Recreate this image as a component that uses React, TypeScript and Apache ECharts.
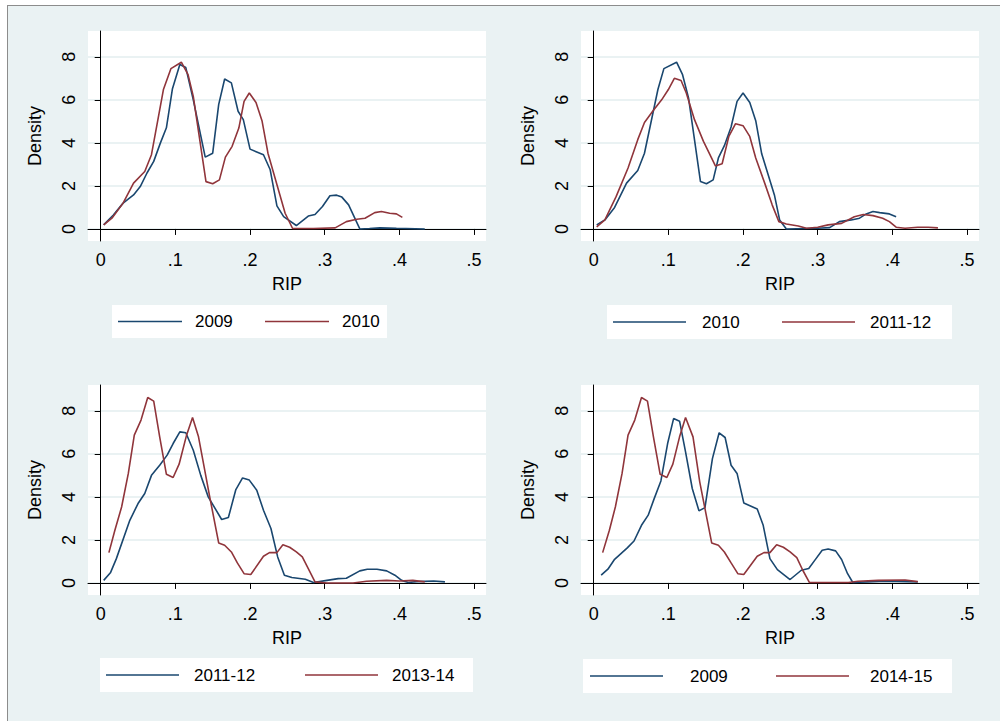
import React, { useEffect, useRef } from 'react';
import * as echarts from 'echarts';

// density curves, [RIP, density]
const p1_2009 = [[.004,.19],[.017,.65],[.030,1.2],[.044,1.58],[.053,1.97],[.062,2.6],[.071,3.14],[.080,4.0],[.088,4.7],[.096,6.5],[.106,7.64],[.114,7.5],[.124,6.0],[.140,3.34],[.150,3.52],[.158,5.78],[.166,6.97],[.175,6.79],[.184,5.47],[.191,5.08],[.200,3.71],[.218,3.45],[.227,2.75],[.236,1.07],[.245,.57],[.262,.16],[.278,.6],[.287,.67],[.297,1.04],[.307,1.54],[.316,1.57],[.323,1.48],[.332,1.12],[.347,0],[.360,.02],[.374,.05],[.396,.03],[.434,0]];
const p1_2010 = [[.004,.19],[.015,.5],[.030,1.2],[.044,2.13],[.059,2.67],[.068,3.45],[.084,6.48],[.094,7.45],[.108,7.75],[.117,7.17],[.124,6.16],[.141,2.2],[.150,2.1],[.159,2.28],[.167,3.34],[.176,3.84],[.185,4.69],[.192,5.93],[.199,6.32],[.208,5.88],[.216,5.03],[.224,3.52],[.240,1.58],[.247,.73],[.257,.02],[.285,.02],[.314,.05],[.329,.34],[.343,.45],[.354,.5],[.367,.76],[.376,.81],[.387,.73],[.396,.7],[.404,.54]];
const p2_2010 = [[.004,.19],[.015,.42],[.028,1.0],[.044,2.13],[.059,2.72],[.068,3.52],[.086,6.48],[.094,7.45],[.111,7.75],[.119,7.17],[.127,6.09],[.143,2.2],[.151,2.1],[.160,2.28],[.167,3.3],[.175,3.87],[.184,4.74],[.192,5.93],[.200,6.32],[.209,5.88],[.217,5.03],[.225,3.49],[.242,1.58],[.249,.42],[.258,0],[.300,.03],[.316,.06],[.329,.34],[.345,.42],[.356,.5],[.365,.7],[.374,.81],[.383,.76],[.396,.7],[.405,.57]];
const p2_2011 = [[.004,.1],[.015,.42],[.030,1.5],[.046,2.83],[.059,4.15],[.068,4.95],[.079,5.47],[.091,6.0],[.100,6.48],[.108,7.0],[.117,6.9],[.124,6.32],[.135,5.08],[.147,4.07],[.163,2.93],[.172,3.03],[.181,4.3],[.190,4.89],[.200,4.8],[.209,4.3],[.217,3.3],[.229,2.13],[.239,1.12],[.248,.34],[.258,.23],[.274,.14],[.285,.03],[.300,.08],[.314,.19],[.332,.26],[.349,.57],[.361,.67],[.374,.62],[.387,.5],[.396,.34],[.405,.08],[.417,.03],[.434,.08],[.448,.08],[.461,.05]];
const p3_2011 = [[.004,.12],[.013,.47],[.021,1.13],[.039,2.91],[.050,3.69],[.059,4.16],[.068,5.0],[.079,5.47],[.089,5.94],[.097,6.48],[.106,7.02],[.114,6.98],[.124,6.17],[.134,5.0],[.144,4.0],[.162,2.95],[.171,3.04],[.181,4.34],[.190,4.88],[.199,4.78],[.209,4.31],[.218,3.38],[.228,2.53],[.237,1.21],[.246,.36],[.256,.25],[.274,.17],[.285,.02],[.303,.12],[.318,.2],[.329,.22],[.347,.56],[.357,.64],[.370,.64],[.383,.56],[.394,.36],[.403,.12],[.412,.02],[.423,.06],[.446,.09],[.461,.05]];
const p3_2013 = [[.011,1.41],[.019,2.45],[.028,3.53],[.037,5.09],[.045,6.87],[.054,7.57],[.063,8.62],[.071,8.45],[.079,6.79],[.088,5.05],[.097,4.9],[.105,5.52],[.115,6.87],[.123,7.69],[.131,6.79],[.146,4.0],[.158,1.86],[.166,1.75],[.175,1.44],[.183,.93],[.192,.43],[.201,.39],[.218,1.24],[.226,1.41],[.236,1.41],[.244,1.78],[.253,1.66],[.262,1.44],[.270,1.21],[.278,.67],[.287,.05],[.303,0],[.338,0],[.356,.08],[.383,.12],[.400,.09],[.418,.12],[.434,.05]];
const p4_2009 = [[.010,.36],[.019,.64],[.028,1.1],[.045,1.63],[.054,1.95],[.064,2.68],[.073,3.15],[.081,3.92],[.090,4.74],[.099,6.48],[.107,7.64],[.115,7.52],[.123,6.09],[.132,4.39],[.141,3.35],[.149,3.5],[.159,5.78],[.168,6.98],[.176,6.76],[.184,5.47],[.192,5.09],[.201,3.72],[.219,3.44],[.227,2.68],[.236,1.13],[.246,.62],[.263,.16],[.278,.59],[.288,.67],[.296,1.05],[.306,1.52],[.314,1.58],[.324,1.49],[.332,1.09],[.340,.43],[.347,.02],[.367,.05],[.390,.08],[.434,.05]];
const p4_2014 = [[.012,1.41],[.021,2.45],[.029,3.53],[.038,5.09],[.046,6.87],[.055,7.57],[.064,8.62],[.072,8.45],[.080,6.79],[.089,5.05],[.098,4.9],[.106,5.52],[.115,6.79],[.123,7.69],[.133,6.79],[.142,4.7],[.158,1.86],[.167,1.75],[.175,1.44],[.184,.93],[.193,.43],[.201,.39],[.219,1.24],[.228,1.41],[.236,1.41],[.245,1.78],[.254,1.66],[.263,1.44],[.272,1.18],[.280,.59],[.289,.02],[.341,.02],[.354,.08],[.381,.12],[.417,.14],[.434,.06]];

const xTicks = [0, 0.1, 0.2, 0.3, 0.4, 0.5];
const yTicks = [0, 2, 4, 6, 8];

const panels = [
  { left: 88, top: 31, names: ['2009', '2010'], data: [p1_2009, p1_2010],
    legend: { box: [112, 305, 275, 33], l1: 118, t1: 195, l2: 265, t2: 342, w: 64 } },
  { left: 581, top: 31, names: ['2010', '2011-12'], data: [p2_2010, p2_2011],
    legend: { box: [607, 305, 345, 34], l1: 613, t1: 702, l2: 782, t2: 870, w: 73 } },
  { left: 88, top: 385, names: ['2011-12', '2013-14'], data: [p3_2011, p3_2013],
    legend: { box: [100, 658, 373, 34], l1: 106, t1: 194, l2: 305, t2: 392, w: 73 } },
  { left: 581, top: 385, names: ['2009', '2014-15'], data: [p4_2009, p4_2014],
    legend: { box: [583, 659, 369, 34], l1: 590, t1: 690, l2: 776, t2: 870, w: 73 } },
];

const BLUE = '#1a476f';
const RED = '#90353b';
const FONT = 'Liberation Sans, Arial, sans-serif';

const App: React.FC = () => {
  const chartRef = useRef<HTMLDivElement | null>(null);

  useEffect(() => {
    document.body.style.margin = '0';
    if (!chartRef.current) return;
    const chart = echarts.init(chartRef.current, undefined, { renderer: 'svg' });

    const grids: any[] = [];
    const xAxes: any[] = [];
    const yAxes: any[] = [];
    const series: any[] = [];
    const graphic: any[] = [];

    panels.forEach((p, i) => {
      grids.push({ left: p.left, top: p.top, width: 398, height: 210, show: true, backgroundColor: '#fff', borderWidth: 0 });
      xAxes.push({
        gridIndex: i, type: 'value', min: -0.017, max: 0.516,
        name: 'RIP', nameLocation: 'middle', nameGap: 34,
        nameTextStyle: { fontSize: 18, color: '#000', fontFamily: FONT },
        axisLine: { lineStyle: { color: '#000', width: 1 } },
        axisTick: { length: 6, customValues: xTicks, lineStyle: { color: '#000' } },
        axisLabel: {
          customValues: xTicks, fontSize: 18, color: '#000', fontFamily: FONT, margin: 10,
          formatter: (v: number) => (v === 0 ? '0' : '.' + Math.round(v * 10)),
        },
        splitLine: { show: false },
      });
      yAxes.push({
        gridIndex: i, type: 'value', min: -0.56, max: 9.2,
        name: 'Density', nameLocation: 'middle', nameGap: 44, nameRotate: 90,
        nameTextStyle: { fontSize: 18, color: '#000', fontFamily: FONT },
        axisLine: { show: true, lineStyle: { color: '#000', width: 1 } },
        axisTick: { show: true, length: 6, customValues: yTicks, lineStyle: { color: '#000' } },
        axisLabel: { customValues: yTicks, rotate: 90, fontSize: 18, color: '#000', fontFamily: FONT, margin: 10 },
        splitLine: { show: true, customValues: yTicks, lineStyle: { color: '#eaf2f3', width: 2 } },
      });
      p.data.forEach((d, k) => {
        series.push({
          type: 'line', xAxisIndex: i, yAxisIndex: i, data: d, showSymbol: false,
          lineStyle: { color: k === 0 ? BLUE : RED, width: 1.6 }, z: 3,
        });
      });
      const L = p.legend;
      const cy = L.box[1] + L.box[3] / 2;
      graphic.push({ type: 'rect', shape: { x: L.box[0], y: L.box[1], width: L.box[2], height: L.box[3] }, style: { fill: '#fff' } });
      graphic.push({ type: 'line', shape: { x1: L.l1, y1: cy, x2: L.l1 + L.w, y2: cy }, style: { stroke: BLUE, lineWidth: 1.6 } });
      graphic.push({ type: 'line', shape: { x1: L.l2, y1: cy, x2: L.l2 + L.w, y2: cy }, style: { stroke: RED, lineWidth: 1.6 } });
      graphic.push({ type: 'text', x: L.t1, y: cy, style: { text: p.names[0], fontSize: 17, fontFamily: FONT, fill: '#000', verticalAlign: 'middle' } });
      graphic.push({ type: 'text', x: L.t2, y: cy, style: { text: p.names[1], fontSize: 17, fontFamily: FONT, fill: '#000', verticalAlign: 'middle' } });
    });

    chart.setOption({
      animation: false,
      grid: grids,
      xAxis: xAxes,
      yAxis: yAxes,
      series,
      graphic,
    });

    return () => {
      chart.dispose();
    };
  }, []);

  return (
    <div style={{ position: 'relative', width: 1000, height: 721, background: '#fff', overflow: 'hidden' }}>
      <div style={{ position: 'absolute', left: 7, top: 5, width: 1000, height: 721, background: '#eaf2f3', border: '1px solid #8c8c8c' }} />
      <div ref={chartRef} style={{ position: 'absolute', left: 0, top: 0, width: 1000, height: 721 }}></div>
    </div>
  );
};

export default App;
